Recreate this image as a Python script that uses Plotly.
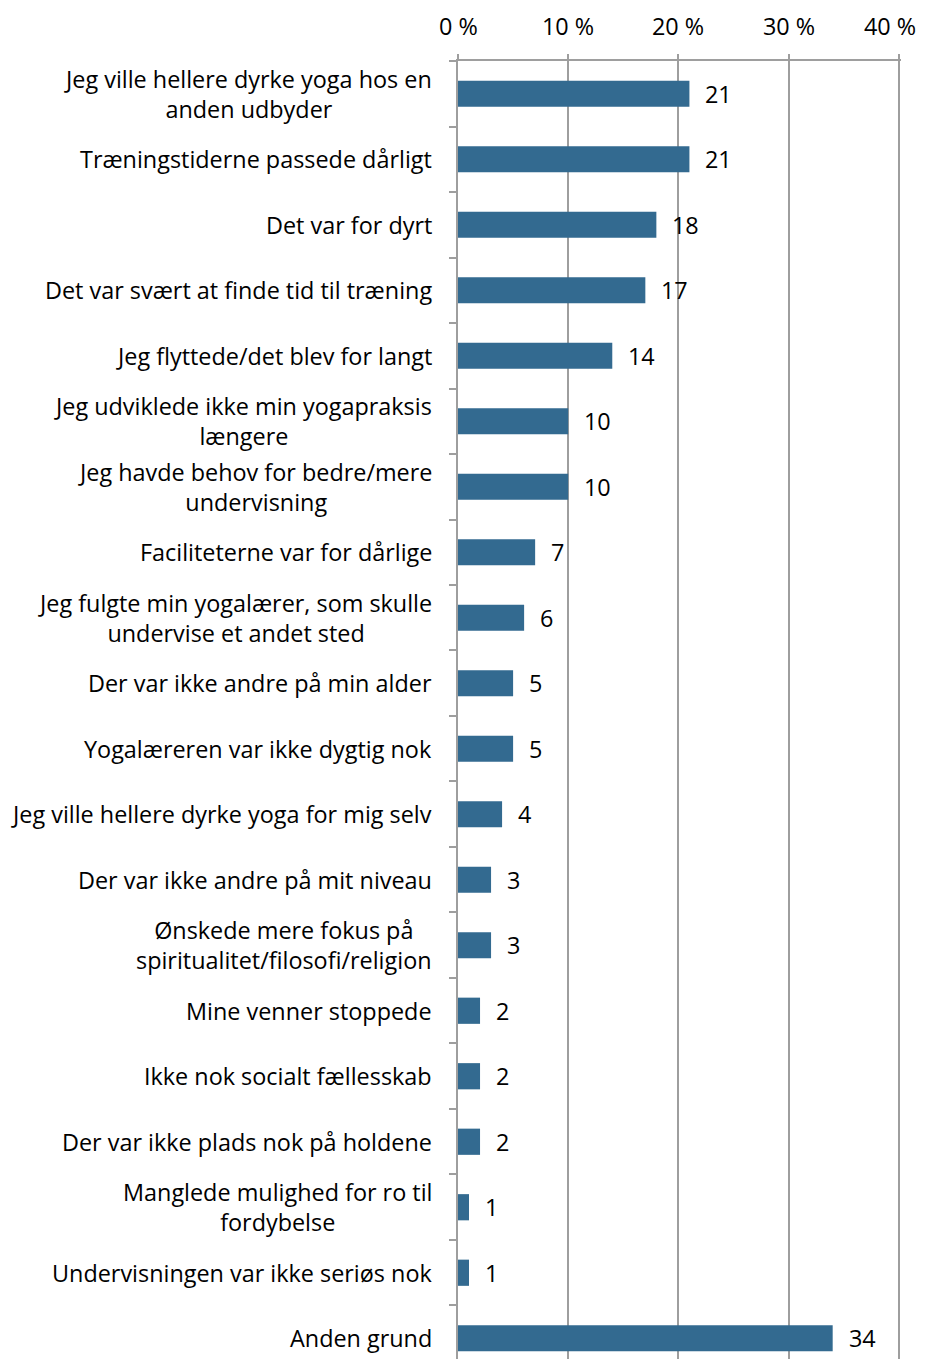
import plotly.graph_objects as go

categories = [
    "Jeg ville hellere dyrke yoga hos en<br>anden udbyder",
    "Træningstiderne passede dårligt",
    "Det var for dyrt",
    "Det var svært at finde tid til træning",
    "Jeg flyttede/det blev for langt",
    "Jeg udviklede ikke min yogapraksis<br>længere",
    "Jeg havde behov for bedre/mere<br>undervisning",
    "Faciliteterne var for dårlige",
    "Jeg fulgte min yogalærer, som skulle<br>undervise et andet sted",
    "Der var ikke andre på min alder",
    "Yogalæreren var ikke dygtig nok",
    "Jeg ville hellere dyrke yoga for mig selv",
    "Der var ikke andre på mit niveau",
    "Ønskede mere fokus på<br>spiritualitet/filosofi/religion",
    "Mine venner stoppede",
    "Ikke nok socialt fællesskab",
    "Der var ikke plads nok på holdene",
    "Manglede mulighed for ro til<br>fordybelse",
    "Undervisningen var ikke seriøs nok",
    "Anden grund",
]
values = [21, 21, 18, 17, 14, 10, 10, 7, 6, 5, 5, 4, 3, 3, 2, 2, 2, 1, 1, 34]
x_ticks = [0, 10, 20, 30, 40]
x_tick_labels = ["0 %", "10 %", "20 %", "30 %", "40 %"]

FONT = "Open Sans"
FS = 23.4
idx = list(range(len(categories)))

fig = go.Figure()
fig.add_trace(go.Bar(
    x=values, y=idx, orientation="h", width=0.4,
    marker=dict(color="#336A90", line=dict(width=0)),
    hoverinfo="skip",
))

annotations = []
for i, (c, v) in enumerate(zip(categories, values)):
    annotations.append(dict(
        x=0, xref="paper", y=i, yref="y", text=c, showarrow=False,
        xanchor="right", yanchor="middle", align="center", xshift=-24,
        font=dict(family=FONT, size=FS, color="#000000"),
    ))
    annotations.append(dict(
        x=v, xref="x", y=i, yref="y", text=str(v), showarrow=False,
        xanchor="left", yanchor="middle", xshift=14,
        font=dict(family=FONT, size=FS, color="#000000"),
    ))

# top axis tick labels (last one kept inside the visible page edge)
for k, (t, lab) in enumerate(zip(x_ticks, x_tick_labels)):
    last = k == len(x_ticks) - 1
    annotations.append(dict(
        x=t, xref="x", y=1, yref="paper", text=lab, showarrow=False,
        xanchor="right" if last else "center", yanchor="middle",
        xshift=19 if last else 0, yshift=35,
        font=dict(family=FONT, size=FS, color="#000000"),
    ))

# page body has an 8px default margin: compensate in size and margins
fig.update_layout(
    width=920, height=1351,
    margin=dict(l=450, r=27, t=53, b=0, pad=0),
    paper_bgcolor="white", plot_bgcolor="white",
    showlegend=False,
    font=dict(family=FONT, size=FS, color="#000000"),
    annotations=annotations,
    xaxis=dict(
        side="top", range=[0, 40.2], tickvals=x_ticks, showticklabels=False,
        showgrid=True, gridcolor="#9E9E9E", gridwidth=1.5,
        showline=True, linecolor="#9E9E9E", linewidth=1.5,
        ticks="outside", ticklen=5, tickcolor="#9E9E9E", tickwidth=1.5,
        zeroline=False,
    ),
    yaxis=dict(
        type="linear", range=[19.317, -0.5],
        tickvals=[i - 0.5 for i in range(len(categories) + 1)],
        showticklabels=False, showgrid=False, zeroline=False,
        showline=True, linecolor="#9E9E9E", linewidth=1.5,
        ticks="outside", ticklen=7, tickcolor="#9E9E9E", tickwidth=1.5,
    ),
)

fig.write_html("out.html")
